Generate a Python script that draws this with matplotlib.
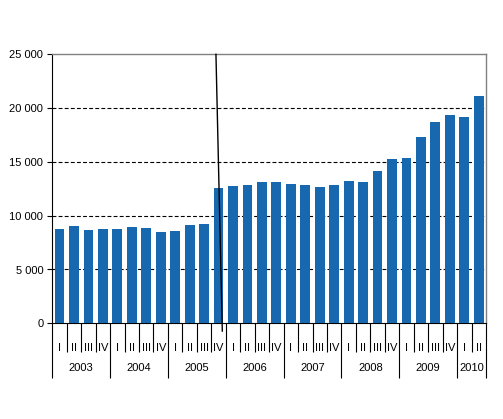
import matplotlib
matplotlib.use("Agg")
import matplotlib.pyplot as plt
from matplotlib.ticker import FuncFormatter, FixedLocator
import matplotlib.transforms as mtransforms

plt.rcParams['font.family'] = ['Liberation Sans', 'DejaVu Sans']

years = ["2003", "2004", "2005", "2006", "2007", "2008", "2009", "2010"]
quarters_per_year = [4, 4, 4, 4, 4, 4, 4, 2]
quarter_names = ["I", "II", "III", "IV"]
values = [8770, 9050, 8670, 8770, 8770, 8950, 8860, 8490,
          8580, 9140, 9230, 12580, 12760, 12860, 13130, 13130,
          12950, 12860, 12670, 12860, 13230, 13130, 14160, 15270,
          15370, 17320, 18710, 19360, 19180, 21130]
yticks = [0, 5000, 10000, 15000, 20000, 25000]

fig = plt.figure(figsize=(5.03, 4.19), dpi=100)
ax = fig.add_axes([52.3/503, 1-323.3/419, (486-52.3)/503, (323.3-54.3)/419])

n = len(values)
xs = list(range(n))
ax.bar(xs, values, width=0.68, color='#1868B0', zorder=3)
ax.set_xlim(-0.5, n - 0.5)
ax.set_ylim(0, 25000)

ax.yaxis.set_major_locator(FixedLocator(yticks))
ax.yaxis.set_major_formatter(FuncFormatter(lambda v, p: f"{int(v):,}".replace(",", " ")))
ax.tick_params(axis='y', length=3.5, width=0.8, labelsize=8, pad=3, color='black')
for t in yticks[1:-1]:
    ax.axhline(t, color='black', lw=0.8, ls=(0, (3.5, 2)), zorder=2)

for s in ['top', 'right']:
    ax.spines[s].set_color('#808080')
    ax.spines[s].set_linewidth(1.0)
ax.spines['left'].set_color('black')
ax.spines['bottom'].set_color('black')
ax.spines['left'].set_linewidth(0.8)
ax.spines['bottom'].set_linewidth(0.8)

# x ticks: quarter boundaries (short) and year boundaries (long)
year_bounds = [-0.5]
for q in quarters_per_year:
    year_bounds.append(year_bounds[-1] + q)
quarter_bounds = [b - 0.5 for b in range(1, n) if (b - 0.5) not in year_bounds]
ax.set_xticks(year_bounds)
ax.set_xticks(quarter_bounds, minor=True)
ax.set_xticklabels([])
ax.tick_params(axis='x', which='major', length=55*0.72, width=0.8, direction='out')
ax.tick_params(axis='x', which='minor', length=29*0.72, width=0.8, direction='out')

trans = mtransforms.blended_transform_factory(ax.transData, ax.transAxes)
i = 0
for y, q in zip(years, quarters_per_year):
    for k in range(q):
        ax.annotate(quarter_names[k], xy=(i + k, 0), xycoords=trans,
                    xytext=(0, -18), textcoords='offset points',
                    ha='center', va='center', fontsize=8)
    ax.annotate(y, xy=(i + (q - 1) / 2, 0), xycoords=trans,
                xytext=(0, -32.5), textcoords='offset points',
                ha='center', va='center', fontsize=8)
    i += q

# series break line
ax.plot([10.82, 11.26], [25000, -720], color='black', lw=1.0, clip_on=False, zorder=5)

fig.savefig("out.png", dpi=100)
